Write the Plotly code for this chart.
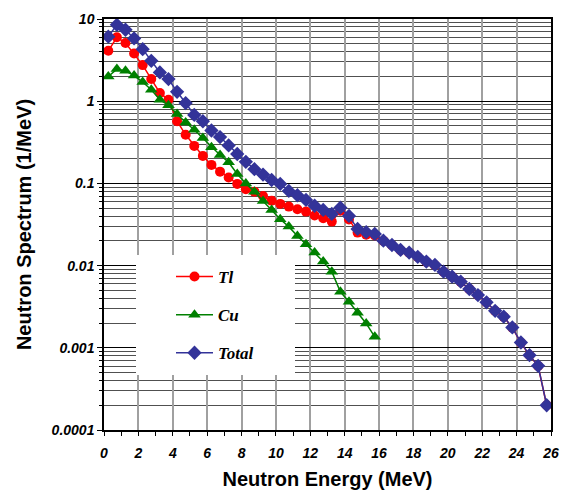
import plotly.graph_objects as go

energy = [0.25 + 0.5 * k for k in range(52)]

total = [6.1, 8.5, 7.4, 5.8, 4.3, 3.1, 2.24, 1.86, 1.30, 0.95,
         0.68, 0.57, 0.44, 0.366, 0.29, 0.228, 0.183, 0.149, 0.128, 0.110,
         0.0986, 0.081, 0.0718, 0.063, 0.0535, 0.0476, 0.0425, 0.0507, 0.0402, 0.0279,
         0.0255, 0.0243, 0.0201, 0.0178, 0.0155, 0.0144, 0.0128, 0.0112, 0.0102, 0.00844,
         0.00733, 0.00637, 0.00519, 0.00438, 0.00357, 0.00282, 0.00239, 0.00177, 0.00116, 0.000814,
         0.000604, 0.0002]

tl = [4.1, 6.0, 5.1, 3.8, 2.75, 1.86, 1.26, 1.04, 0.57, 0.39,
      0.286, 0.216, 0.168, 0.139, 0.118, 0.0986, 0.085, 0.0794, 0.0704, 0.0617,
      0.0563, 0.0522, 0.0485, 0.0454, 0.0406, 0.0377, 0.0343, 0.0466, 0.0365, 0.0252,
      0.0238, 0.0232, 0.0200, 0.0177, 0.0154, 0.0143, 0.0127, 0.0111, 0.0101, 0.00840,
      0.00730, 0.00634, 0.00517, 0.00436, 0.00355, 0.00281, 0.00238, 0.00176, 0.00115, 0.000810,
      0.000600, 0.0002]

cu = [2.0, 2.46, 2.34, 2.05, 1.71, 1.38, 1.04, 0.89, 0.70, 0.55,
      0.45, 0.356, 0.276, 0.222, 0.181, 0.130, 0.100, 0.0794, 0.0612, 0.0475,
      0.0366, 0.0298, 0.0229, 0.0182, 0.0144, 0.0112, 0.00844, 0.00481, 0.00363, 0.00267,
      0.00198, 0.00136]

y_tickvals = [10, 1, 0.1, 0.01, 0.001, 0.0001]
y_ticktext = ["10", "1", "0.1", "0.01", "0.001", "0.0001"]

RED = "#ff0000"
GREEN = "#008000"
BLUE = "#333399"

fig = go.Figure()
fig.add_trace(go.Scatter(x=energy, y=tl, name="Tl", mode="lines+markers",
                         line=dict(color=RED, width=1.5),
                         marker=dict(symbol="circle", size=10, color=RED),
                         legendgroup="a"))
fig.add_trace(go.Scatter(x=energy[:len(cu)], y=cu, name="Cu", mode="lines+markers",
                         line=dict(color=GREEN, width=1.5),
                         marker=dict(symbol="triangle-up", size=11, color=GREEN),
                         legendgroup="b"))
fig.add_trace(go.Scatter(x=energy, y=total, name="Total", mode="lines+markers",
                         line=dict(color=BLUE, width=1.5),
                         marker=dict(symbol="diamond", size=11, color=BLUE),
                         legendgroup="c"))

minor_y = [m * 10 ** e for e in range(-4, 1) for m in range(2, 10)]

tickfont = dict(family="Liberation Sans, Arial", size=14, color="black",
                weight="bold", style="italic")
titlefont = dict(family="Liberation Sans, Arial", size=20, color="black", weight="bold")

fig.update_xaxes(range=[0, 26], dtick=2, tick0=0, automargin=False,
                 showgrid=True, gridcolor="#a0a0a0", gridwidth=1.5,
                 showline=True, linecolor="black", linewidth=1.5, mirror=True,
                 ticks="outside", ticklen=4, tickcolor="black", ticklabelstandoff=5,
                 minor=dict(dtick=1, ticks="outside", ticklen=4, tickcolor="black", showgrid=False),
                 tickfont=tickfont, zeroline=False,
                 title=dict(text="Neutron Energy (MeV)", font=titlefont, standoff=19))
fig.update_yaxes(type="log", range=[-4, 1], tickvals=y_tickvals, ticktext=y_ticktext,
                 automargin=False,
                 showgrid=True, gridcolor="black", gridwidth=1,
                 showline=True, linecolor="black", linewidth=1.5, mirror=True,
                 ticks="outside", ticklen=5, tickcolor="black",
                 minor=dict(tickvals=minor_y, ticks="outside", ticklen=3, tickcolor="black",
                            showgrid=True, gridcolor="#505050", gridwidth=1),
                 tickfont=tickfont, zeroline=False,
                 title=dict(text="Neutron Spectrum (1/MeV)", font=titlefont, standoff=15))

fig.add_shape(type="rect", xref="paper", yref="paper",
              x0=(136 - 104) / 447, x1=(295 - 104) / 447,
              y0=(430 - 375) / 411, y1=(430 - 255) / 411,
              fillcolor="white", line=dict(width=0), layer="above")

fig.update_layout(
    width=563, height=490,
    margin=dict(l=104, r=12, t=19, b=60),
    plot_bgcolor="white", paper_bgcolor="white",
    showlegend=True,
    legend=dict(x=(171 - 104) / 447, y=(430 - 259) / 411, xanchor="left", yanchor="top",
                bgcolor="rgba(0,0,0,0)", tracegroupgap=13, itemwidth=37,
                font=dict(family="Liberation Serif, Times New Roman", size=17, color="black",
                          weight="bold", style="italic")),
)

fig.write_html("out.html", config={"displayModeBar": False},
               post_script="document.body.style.margin='0';"
                           "document.documentElement.style.overflow='hidden';")
